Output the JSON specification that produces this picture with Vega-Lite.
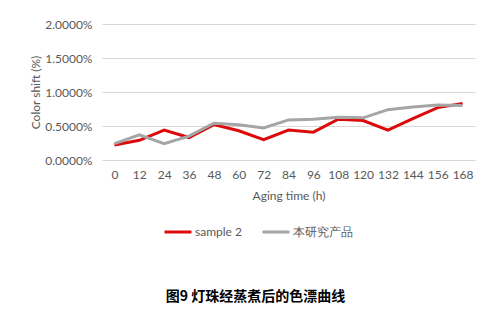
{
  "$schema": "https://vega.github.io/schema/vega-lite/v6.json",
  "width": 373,
  "height": 136,
  "autosize": "none",
  "padding": {"left": 102, "top": 24, "right": 26, "bottom": 162},
  "background": "white",
  "title": {
    "text": "图9  灯珠经蒸煮后的色漂曲线",
    "orient": "bottom",
    "anchor": "middle",
    "dx": -33,
    "offset": 52,
    "font": "Noto Sans CJK SC",
    "fontSize": 14,
    "fontWeight": "bold",
    "color": "#000000"
  },
  "data": {
    "values": [
      {"t": "0", "s": "sample 2", "v": 0.0022},
      {"t": "12", "s": "sample 2", "v": 0.0029},
      {"t": "24", "s": "sample 2", "v": 0.0044},
      {"t": "36", "s": "sample 2", "v": 0.0033},
      {"t": "48", "s": "sample 2", "v": 0.0052},
      {"t": "60", "s": "sample 2", "v": 0.0043},
      {"t": "72", "s": "sample 2", "v": 0.0030},
      {"t": "84", "s": "sample 2", "v": 0.0044},
      {"t": "96", "s": "sample 2", "v": 0.0041},
      {"t": "108", "s": "sample 2", "v": 0.0060},
      {"t": "120", "s": "sample 2", "v": 0.0058},
      {"t": "132", "s": "sample 2", "v": 0.0044},
      {"t": "144", "s": "sample 2", "v": 0.0061},
      {"t": "156", "s": "sample 2", "v": 0.0077},
      {"t": "168", "s": "sample 2", "v": 0.0083},
      {"t": "0", "s": "本研究产品", "v": 0.0024},
      {"t": "12", "s": "本研究产品", "v": 0.0037},
      {"t": "24", "s": "本研究产品", "v": 0.0024},
      {"t": "36", "s": "本研究产品", "v": 0.0035},
      {"t": "48", "s": "本研究产品", "v": 0.0054},
      {"t": "60", "s": "本研究产品", "v": 0.0052},
      {"t": "72", "s": "本研究产品", "v": 0.0047},
      {"t": "84", "s": "本研究产品", "v": 0.0059},
      {"t": "96", "s": "本研究产品", "v": 0.0060},
      {"t": "108", "s": "本研究产品", "v": 0.0063},
      {"t": "120", "s": "本研究产品", "v": 0.0062},
      {"t": "132", "s": "本研究产品", "v": 0.0074},
      {"t": "144", "s": "本研究产品", "v": 0.0078},
      {"t": "156", "s": "本研究产品", "v": 0.0081},
      {"t": "168", "s": "本研究产品", "v": 0.0080}
    ]
  },
  "mark": {"type": "line", "strokeWidth": 3, "strokeJoin": "miter"},
  "encoding": {
    "x": {
      "field": "t",
      "type": "ordinal",
      "sort": null,
      "scale": {"type": "point", "padding": 0.5},
      "axis": {
        "title": "Aging time (h)",
        "labelAngle": 0,
        "domain": false,
        "ticks": false,
        "labelPadding": 9,
        "titlePadding": 10
      }
    },
    "y": {
      "field": "v",
      "type": "quantitative",
      "scale": {"domain": [0, 0.02]},
      "axis": {
        "title": "Color shift (%)",
        "format": ".4%",
        "values": [0, 0.005, 0.01, 0.015, 0.02],
        "domain": false,
        "ticks": false,
        "labelPadding": 10,
        "titlePadding": 2
      }
    },
    "color": {
      "field": "s",
      "type": "nominal",
      "scale": {"domain": ["sample 2", "本研究产品"], "range": ["#dc0a0a", "#a5a5a5"]},
      "legend": {
        "title": null,
        "orient": "none",
        "direction": "horizontal",
        "legendX": 61,
        "legendY": 193,
        "symbolType": "stroke",
        "symbolSize": 729,
        "symbolStrokeWidth": 3,
        "columnPadding": 14,
        "labelOffset": 2
      }
    }
  },
  "config": {
    "view": {"stroke": null},
    "font": "Lato",
    "axis": {
      "labelFont": "Lato",
      "labelFontSize": 12,
      "labelColor": "#595959",
      "titleFont": "Lato",
      "titleFontSize": 12,
      "titleFontWeight": "normal",
      "titleColor": "#595959",
      "gridColor": "#d9d9d9",
      "gridWidth": 1
    },
    "legend": {
      "labelFont": "Lato",
      "labelFontSize": 12,
      "labelColor": "#595959"
    }
  }
}
